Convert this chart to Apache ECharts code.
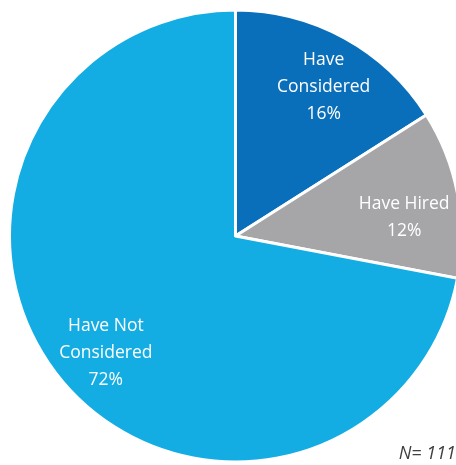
<!DOCTYPE html>
<html>
<head>
<meta charset="utf-8">
<style>
  html, body { margin: 0; padding: 0; background: #ffffff; }
  #chart { width: 456px; height: 465px; }
</style>
<script src="https://cdn.jsdelivr.net/npm/echarts@6/dist/echarts.min.js"></script>
</head>
<body>
<div id="chart"></div>
<script>
// Survey responses (share of respondents, %)
const categories = ['Have\nConsidered', 'Have Hired', 'Have Not\nConsidered'];
const shares = [16, 12, 72];
const sliceColors = ['#0a6fba', '#a6a6a9', '#14ade3'];
const sampleNote = 'N= 111';

const center = [235.5, 236];
const pieRadius = 226;

// small per-slice label nudges [dx, dy]
const labelNudges = [[4, 4], [-3, 14], [5, 6]];

const sliceData = categories.map((name, i) => ({
  name: name,
  value: shares[i],
  itemStyle: { color: sliceColors[i] }
}));

const chart = echarts.init(document.getElementById('chart'), null, { renderer: 'canvas' });

chart.setOption({
  animation: false,
  series: [
    {
      // the visible pie
      type: 'pie',
      center: center,
      radius: [0, pieRadius],
      startAngle: 90,
      clockwise: true,
      silent: true,
      data: sliceData,
      itemStyle: { borderColor: '#ffffff', borderWidth: 3 },
      label: { show: false },
      labelLine: { show: false }
    },
    {
      // transparent copy whose inside labels sit further out along each slice
      type: 'pie',
      center: center,
      radius: [0, pieRadius * 1.52],
      startAngle: 90,
      clockwise: true,
      silent: true,
      data: sliceData.map(d => ({ name: d.name, value: d.value })),
      itemStyle: { color: 'rgba(0,0,0,0)', borderWidth: 0 },
      label: {
        show: true,
        position: 'inside',
        formatter: p => p.name + '\n' + p.value + '%',
        color: '#ffffff',
        fontFamily: 'Open Sans',
        fontSize: 17.5,
        lineHeight: 27,
        align: 'center'
      },
      labelLayout: p => ({ dx: labelNudges[p.dataIndex][0], dy: labelNudges[p.dataIndex][1] }),
      labelLine: { show: false }
    }
  ],
  graphic: [
    {
      type: 'text',
      right: 0,
      bottom: 2,
      style: {
        text: sampleNote,
        fill: '#404040',
        fontFamily: 'Open Sans',
        fontStyle: 'italic',
        fontSize: 18
      }
    }
  ]
});
</script>
</body>
</html>
